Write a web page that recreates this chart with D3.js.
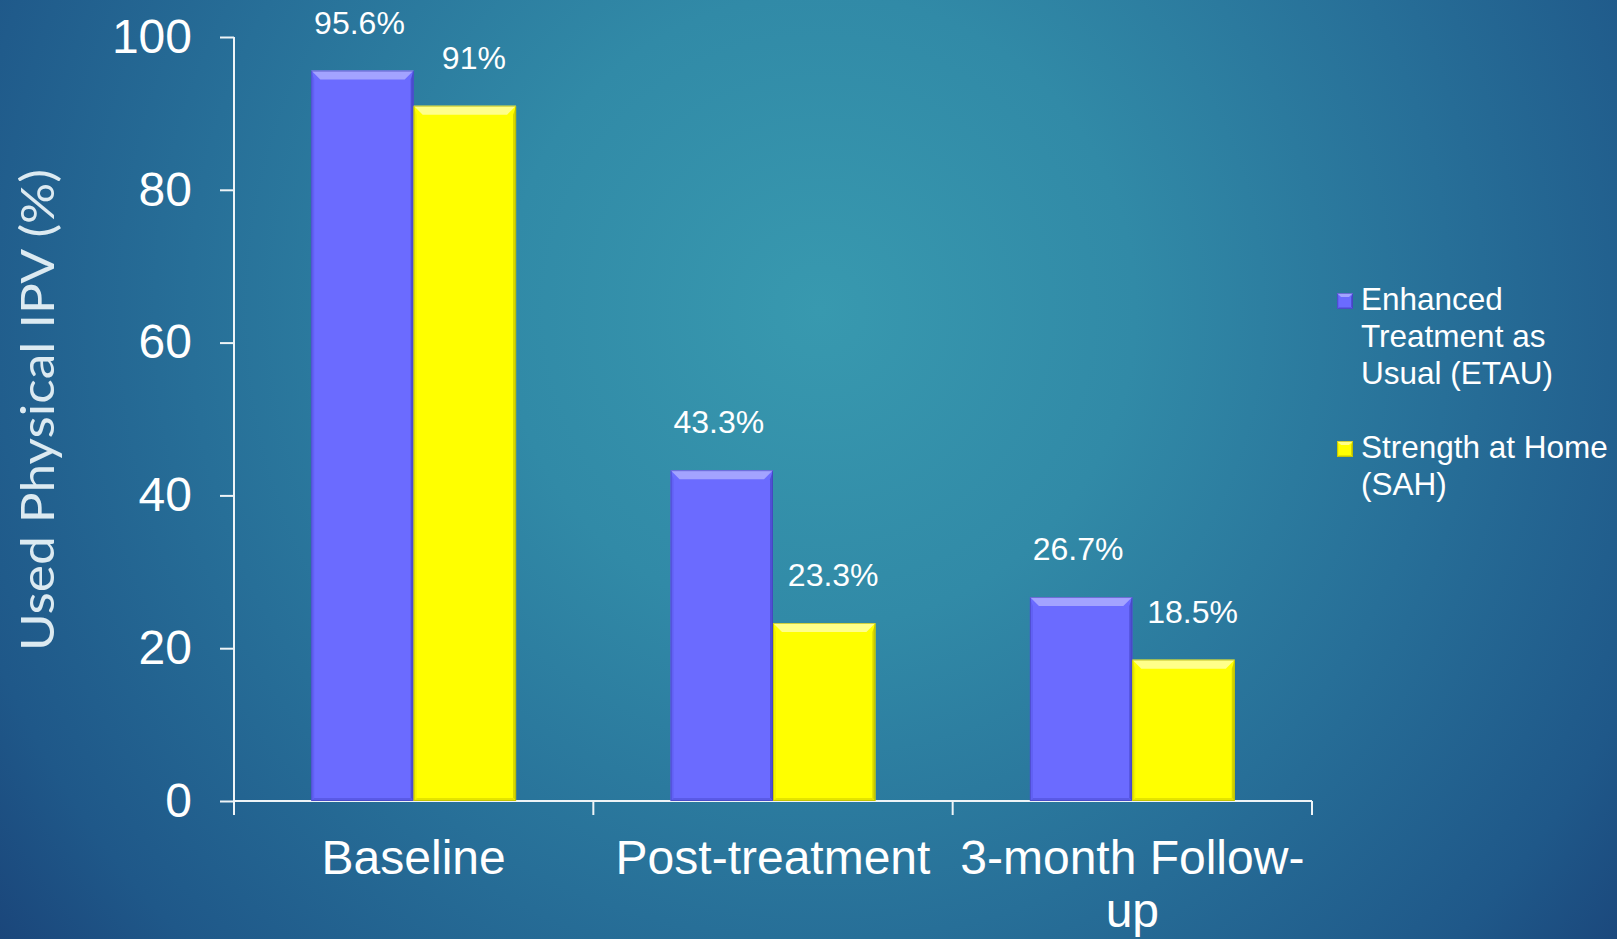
<!DOCTYPE html>
<html>
<head>
<meta charset="utf-8">
<script src="https://cdn.jsdelivr.net/npm/d3@7/dist/d3.min.js"></script>
<style>
  html, body { margin: 0; padding: 0; overflow: hidden; background: #1f5a8a; }
  svg { display: block; }
</style>
</head>
<body>
<svg id="chart" width="1617" height="939"></svg>
<script>
// Share of participants reporting physical IPV, by assessment point and group
const categories = ["Baseline", "Post-treatment", "3-month Follow-up"];
const categoryLines = [["Baseline"], ["Post-treatment"], ["3-month Follow-", "up"]];
const seriesNames = ["Enhanced Treatment as Usual (ETAU)", "Strength at Home (SAH)"];
const legendLines = [["Enhanced", "Treatment as", "Usual (ETAU)"], ["Strength at Home", "(SAH)"]];
const etauValues = [95.6, 43.3, 26.7];
const sahValues = [91, 23.3, 18.5];
const valueLabels = [["95.6%", "43.3%", "26.7%"], ["91%", "23.3%", "18.5%"]];
const yTicks = [0, 20, 40, 60, 80, 100];
const yTitle = "Used Physical IPV (%)";

const W = 1617, H = 939;
const margin = { top: 37, right: 305, bottom: 138, left: 234 };
const svg = d3.select("#chart");

// Background: soft radial teal glow fading to deep blue
const defs = svg.append("defs");
const bg = defs.append("radialGradient")
  .attr("id", "bg").attr("gradientUnits", "userSpaceOnUse")
  .attr("cx", 820).attr("cy", 310).attr("r", 1050);
[[0, "#3899af"], [0.3, "#318aa7"], [0.6, "#276f98"], [0.85, "#1f5889"], [1, "#1a4479"]]
  .forEach(([o, c]) => bg.append("stop").attr("offset", o).attr("stop-color", c));
svg.append("rect").attr("width", W).attr("height", H).attr("fill", "url(#bg)");

const x = d3.scaleBand().domain(categories).range([margin.left, W - margin.right]).padding(0);
const groupPad = x.bandwidth() * 0.215;
const xSub = d3.scaleBand().domain([0, 1]).range([groupPad, x.bandwidth() - groupPad]).padding(0);
const y = d3.scaleLinear().domain([0, 100]).range([H - margin.bottom, margin.top]);

const axisColor = "#eef4f7";
const fontMain = "'Liberation Sans', Arial, sans-serif";

// Y axis
const yAxis = svg.append("g")
  .attr("transform", `translate(${margin.left},0)`)
  .call(d3.axisLeft(y).tickValues(yTicks).tickSize(14).tickSizeOuter(0).tickPadding(28));
yAxis.select(".domain").attr("stroke", axisColor).attr("stroke-width", 2)
  .attr("d", `M0,${y(100)}V${y(0) + 14}`);
yAxis.selectAll(".tick line").attr("stroke", axisColor).attr("stroke-width", 2);
yAxis.selectAll(".tick text").attr("fill", "#ffffff")
  .style("font-family", fontMain).style("font-size", "48px");

// X axis: baseline and category boundary ticks
const xAxis = svg.append("g").attr("transform", `translate(0,${y(0)})`);
xAxis.append("line").attr("x1", x.range()[0]).attr("x2", x.range()[1])
  .attr("stroke", axisColor).attr("stroke-width", 2);
const bounds = [x.range()[0]].concat(categories.map(c => x(c) + x.bandwidth()));
xAxis.selectAll("line.b").data(bounds).join("line").attr("class", "b")
  .attr("x1", d => d).attr("x2", d => d).attr("y1", 0).attr("y2", 14)
  .attr("stroke", axisColor).attr("stroke-width", 2);
const catText = xAxis.selectAll("text.cat").data(categories).join("text").attr("class", "cat")
  .attr("x", d => x(d) + x.bandwidth() / 2).attr("y", 73)
  .attr("text-anchor", "middle").attr("fill", "#ffffff")
  .style("font-family", fontMain).style("font-size", "48px");
catText.each(function (d, i) {
  d3.select(this).selectAll("tspan").data(categoryLines[i]).join("tspan")
    .attr("x", x(d) + x.bandwidth() / 2).attr("dy", (t, j) => j === 0 ? 0 : 53).text(t => t);
});

// Y axis title
svg.append("text")
  .attr("transform", `translate(54,${(y(0) + y(100)) / 2 - 9}) rotate(-90)`)
  .attr("text-anchor", "middle")
  .attr("fill", "#dceaf1")
  .style("font-family", "'Century Gothic', 'URW Gothic', Lato, sans-serif")
  .style("font-weight", "400")
  .style("font-size", "46px")
  .attr("textLength", 482).attr("lengthAdjust", "spacingAndGlyphs")
  .text(yTitle);

// Bevelled bar shading
const palettes = [
  { main: "#6b6bff", top: "#a3a3ff", left: "#6161f4", right: "#4f4fd6", bottom: "#5a5ae6", edge: "#3f3fb0" },
  { main: "#ffff00", top: "#ffff8a", left: "#f2f200", right: "#d6d600", bottom: "#e4e400", edge: "#a9a900" }
];
function drawBevelBox(g, x0, y0, w, h, pal, bt, bs) {
  const x1 = x0 + w, y1 = y0 + h;
  g.append("rect").attr("x", x0).attr("y", y0).attr("width", w).attr("height", h).attr("fill", pal.main);
  const poly = (pts, fill) => g.append("polygon").attr("points", pts.map(p => p.join(",")).join(" ")).attr("fill", fill);
  poly([[x0, y0], [x0 + bs, y0 + bt], [x0 + bs, y1 - bs], [x0, y1]], pal.left);
  poly([[x1, y0], [x1 - bs, y0 + bt], [x1 - bs, y1 - bs], [x1, y1]], pal.right);
  poly([[x0, y1], [x0 + bs, y1 - bs], [x1 - bs, y1 - bs], [x1, y1]], pal.bottom);
  poly([[x0, y0], [x1, y0], [x1 - bt, y0 + bt], [x0 + bt, y0 + bt]], pal.top);
  g.append("rect").attr("x", x0 + 0.5).attr("y", y0 + 0.5).attr("width", w - 1).attr("height", h - 1)
    .attr("fill", "none").attr("stroke", pal.edge).attr("stroke-opacity", 0.55).attr("stroke-width", 1);
}

const seriesValues = [etauValues, sahValues];
const bars = svg.append("g");
seriesValues.forEach((vals, s) => {
  vals.forEach((v, i) => {
    const bx = x(categories[i]) + xSub(s);
    const by = y(v);
    const g = bars.append("g");
    drawBevelBox(g, bx, by, xSub.bandwidth(), y(0) - by, palettes[s], 9, 3);
  });
});

// Value labels
const labelShift = [-3, 9];
seriesValues.forEach((vals, s) => {
  svg.append("g").selectAll("text").data(vals).join("text")
    .attr("x", (v, i) => x(categories[i]) + xSub(s) + xSub.bandwidth() / 2 + labelShift[s])
    .attr("y", v => y(v) - 37)
    .attr("text-anchor", "middle").attr("fill", "#ffffff")
    .style("font-family", fontMain).style("font-size", "32px")
    .text((v, i) => valueLabels[s][i]);
});

// Legend
const legend = svg.append("g");
const legendTops = [293, 441];
seriesNames.forEach((name, s) => {
  const g = legend.append("g").attr("aria-label", name);
  drawBevelBox(g, 1337, legendTops[s], 16, 16, palettes[s], 4, 2);
  const t = g.append("text").attr("x", 1361).attr("y", legendTops[s] + 17)
    .attr("fill", "#ffffff").style("font-family", fontMain).style("font-size", "31.5px");
  t.selectAll("tspan").data(legendLines[s]).join("tspan")
    .attr("x", 1361).attr("dy", (d, j) => j === 0 ? 0 : 37).text(d => d);
});
</script>
</body>
</html>
